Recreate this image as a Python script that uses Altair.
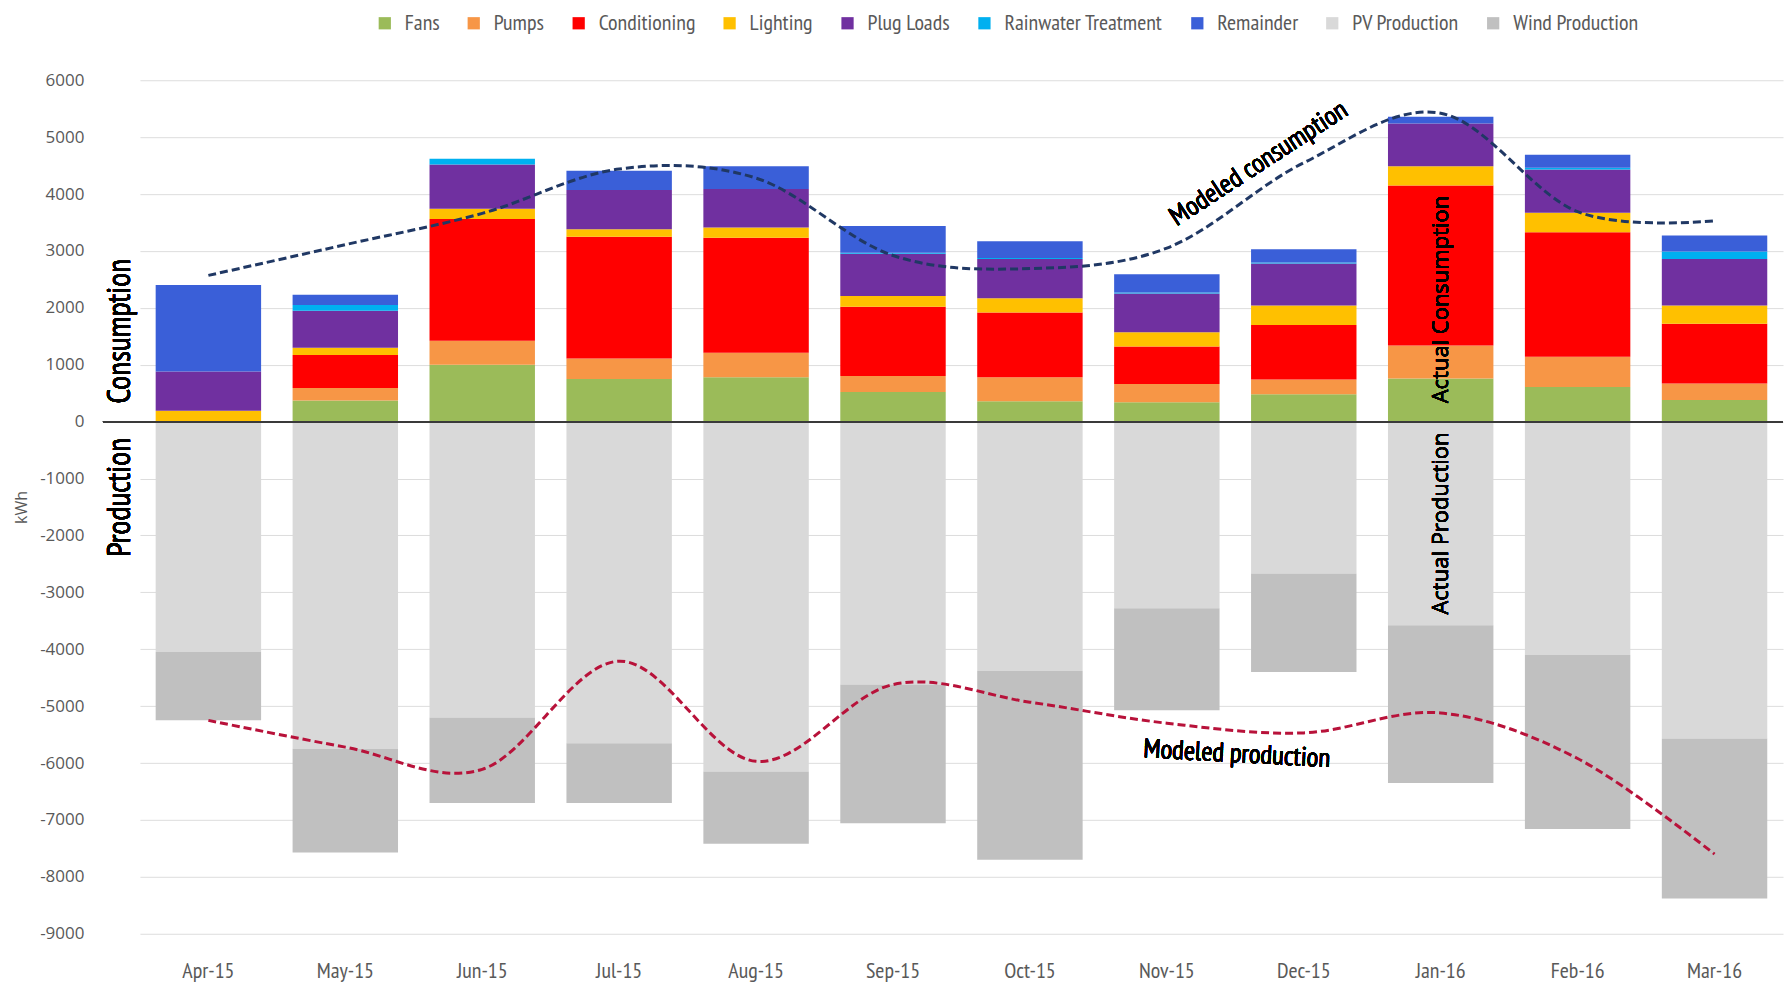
import math
import altair as alt
import pandas as pd

months = ["Apr-15", "May-15", "Jun-15", "Jul-15", "Aug-15", "Sep-15",
          "Oct-15", "Nov-15", "Dec-15", "Jan-16", "Feb-16", "Mar-16"]

fans = [0, 370, 1000, 750, 780, 520, 360, 340, 480, 760, 610, 380]
pumps = [0, 220, 420, 360, 430, 280, 420, 320, 260, 580, 530, 290]
conditioning = [0, 580, 2140, 2140, 2020, 1220, 1140, 660, 960, 2810, 2190, 1050]
lighting = [190, 130, 180, 130, 180, 190, 250, 250, 340, 340, 340, 320]
plug_loads = [690, 650, 780, 690, 680, 740, 690, 680, 740, 750, 760, 820]
rainwater = [0, 100, 100, 0, 0, 20, 15, 20, 15, 0, 30, 130]
remainder = [1520, 180, 0, 340, 400, 470, 295, 320, 235, 120, 230, 280]
pv_production = [-4050, -5750, -5200, -5650, -6150, -4620, -4380, -3280, -2670, -3580, -4100, -5570]
wind_production = [-1200, -1820, -1500, -1050, -1270, -2440, -3320, -1790, -1730, -2770, -3060, -2810]

modeled_consumption = [2570, 3110, 3660, 4440, 4280, 2920, 2690, 3050, 4550, 5420, 3690, 3530]
modeled_production = [-5250, -5720, -6110, -4210, -5970, -4620, -4930, -5300, -5470, -5120, -5920, -7600]

series_names = ["Fans", "Pumps", "Conditioning", "Lighting", "Plug Loads",
                "Rainwater Treatment", "Remainder", "PV Production", "Wind Production"]
series_colors = ["#9BBB59", "#F79646", "#FF0000", "#FFC000", "#7030A0",
                 "#00B0F0", "#3A5FD8", "#D9D9D9", "#C0C0C0"]
series_values = [fans, pumps, conditioning, lighting, plug_loads,
                 rainwater, remainder, pv_production, wind_production]

rows = []
for k, (name, vals) in enumerate(zip(series_names, series_values)):
    for m, v in zip(months, vals):
        rows.append({"month": m, "series": name, "value": v, "ord": k})
bars_df = pd.DataFrame(rows)

lines_df = pd.DataFrame({
    "month": months,
    "cons": modeled_consumption,
    "prod": modeled_production,
})

W, H = 1644, 854
NARROW = "PT Sans Narrow, Roboto Condensed, Liberation Sans Narrow, DejaVu Sans Condensed, sans-serif"
SANS = "Open Sans, sans-serif"


def rot_offset(ox, oy, angle_deg):
    # convert a page offset into the rotated text frame used by Vega's dx/dy
    t = math.radians(angle_deg)
    return (ox * math.cos(t) + oy * math.sin(t), -ox * math.sin(t) + oy * math.cos(t))


xenc = alt.X("month:N", sort=months,
             scale=alt.Scale(paddingInner=0.23, paddingOuter=0.115),
             axis=alt.Axis(title=None, labelAngle=0, domain=False, ticks=False,
                           grid=False, labelFont=NARROW, labelFontSize=22,
                           labelColor="#595959", labelPadding=27))
yscale = alt.Scale(domain=[-9000, 6000], nice=False)

bars = alt.Chart(bars_df).mark_bar().encode(
    x=xenc,
    y=alt.Y("value:Q", stack="zero", scale=yscale,
            axis=alt.Axis(title="kWh", values=list(range(-9000, 7000, 1000)),
                          labelExpr="'' + datum.value",
                          domain=False, ticks=False, gridColor="#DDDDDD",
                          labelFont=SANS, labelFontSize=17, labelColor="#595959",
                          labelPadding=56, titleFont=SANS, titleFontSize=16,
                          titleFontWeight="normal", titleColor="#595959",
                          titlePadding=10.5)),
    color=alt.Color("series:N",
                    scale=alt.Scale(domain=series_names, range=series_colors),
                    legend=alt.Legend(title=None, orient="none", legendX=234,
                                      legendY=-68, direction="horizontal",
                                      columns=9, symbolType="square",
                                      symbolSize=150, symbolStrokeWidth=0,
                                      labelFont=NARROW, labelFontSize=22,
                                      labelColor="#595959", labelOffset=9,
                                      labelLimit=0,
                                      columnPadding=23, padding=0)),
    order=alt.Order("ord:Q"),
)

zero_rule = alt.Chart(lines_df).mark_rule(color="#3A3A3A", strokeWidth=1.5).encode(
    y=alt.datum(0), x=alt.value(-37), x2=alt.value(W)
)

cons_line = alt.Chart(lines_df).mark_line(
    color="#203864", strokeWidth=3, strokeDash=[8, 4], interpolate="cardinal"
).encode(x=alt.X("month:N", sort=months), y=alt.Y("cons:Q", scale=yscale))

prod_line = alt.Chart(lines_df).mark_line(
    color="#B8123A", strokeWidth=3, strokeDash=[8, 4], interpolate="cardinal"
).encode(x=alt.X("month:N", sort=months), y=alt.Y("prod:Q", scale=yscale))

side_cons = alt.Chart(lines_df).mark_text(
    text="Consumption", angle=270, font=NARROW, fontSize=32, color="#000000",
    align="center", baseline="middle"
).encode(x=alt.value(-20), y=alt.datum(1590))

side_prod = alt.Chart(lines_df).mark_text(
    text="Production", angle=270, font=NARROW, fontSize=32, color="#000000",
    align="center", baseline="middle"
).encode(x=alt.value(-20), y=alt.datum(-1330))

act_cons = alt.Chart(lines_df).mark_text(
    text="Actual Consumption", angle=270, font=SANS, fontSize=22, color="#000000",
    align="center", baseline="middle"
).encode(x=alt.datum("Jan-16"), y=alt.datum(2145))

act_prod = alt.Chart(lines_df).mark_text(
    text="Actual Production", angle=270, font=SANS, fontSize=22, color="#000000",
    align="center", baseline="middle"
).encode(x=alt.datum("Jan-16"), y=alt.datum(-1790))

mc_dx, mc_dy = rot_offset(-45, 0, 327)
mod_cons = alt.Chart(lines_df).mark_text(
    text="Modeled consumption", angle=327, font=NARROW, fontSize=27, color="#000000",
    align="center", baseline="middle", dx=mc_dx, dy=mc_dy
).encode(x=alt.datum("Dec-15"), y=alt.datum(4535))

mp_dx, mp_dy = rot_offset(70, 0, 3)
mod_prod = alt.Chart(lines_df).mark_text(
    text="Modeled production", angle=3, font=NARROW, fontSize=27, color="#000000",
    align="center", baseline="middle", dx=mp_dx, dy=mp_dy
).encode(x=alt.datum("Nov-15"), y=alt.datum(-5845))

chart = alt.layer(
    bars, zero_rule, cons_line, prod_line, side_cons, side_prod,
    act_cons, act_prod, mod_cons, mod_prod
).properties(
    width=W, height=H,
    padding={"left": 5, "top": 4, "right": 0, "bottom": 6},
).configure(background="white").configure_view(stroke=None)

chart.save("out.html", embed_options={"renderer": "svg", "actions": False})
